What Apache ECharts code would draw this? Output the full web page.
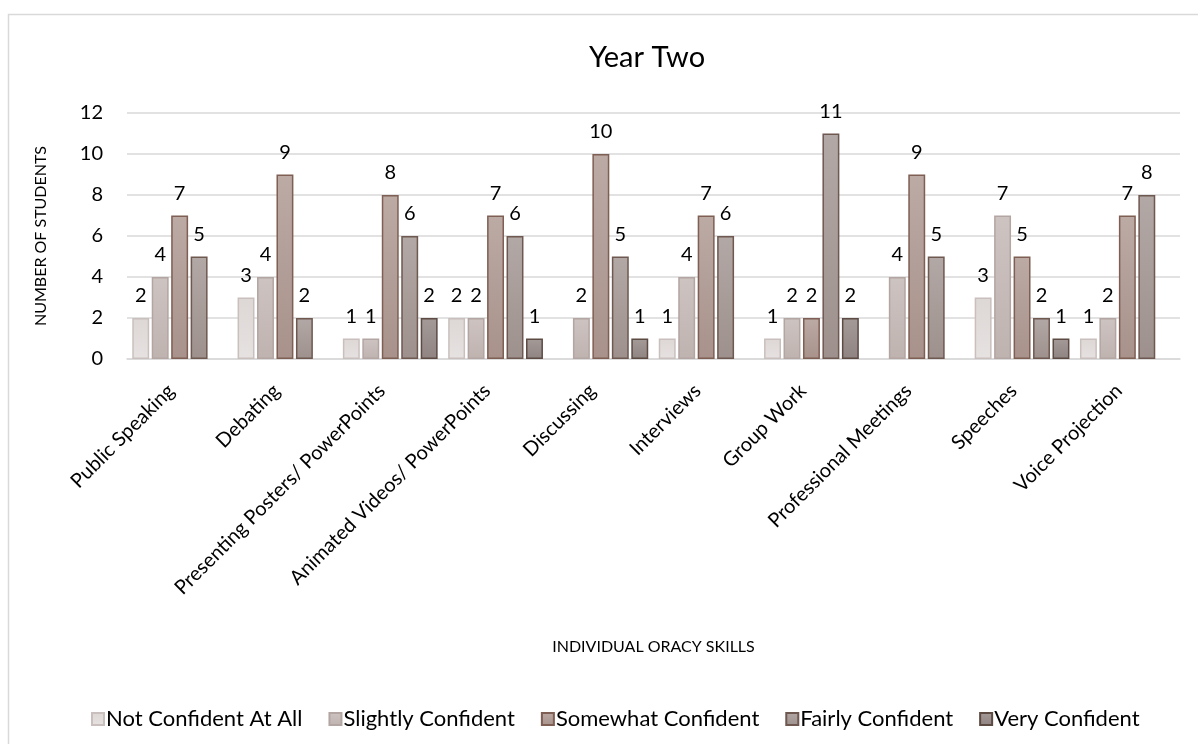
<!DOCTYPE html>
<html>
<head>
    <meta charset="utf-8">
    <title>Year Two</title>
    <script src="https://cdn.jsdelivr.net/npm/echarts@6/dist/echarts.min.js"></script>
</head>
<body style="margin:0">
<div id="main" style="width:1198px;height:744px;"></div>
<script type="text/javascript">
    // skills on the x axis
    var skills = ['Public Speaking', 'Debating', 'Presenting Posters/ PowerPoints',
        'Animated Videos/ PowerPoints', 'Discussing', 'Interviews', 'Group Work',
        'Professional Meetings', 'Speeches', 'Voice Projection'];

    var levels = ['Not Confident At All', 'Slightly Confident', 'Somewhat Confident',
        'Fairly Confident', 'Very Confident'];

    // null = empty cell, no bar drawn
    var notConfident = [2, 3, 1, 2, null, 1, 1, null, 3, 1];
    var slightly = [4, 4, 1, 2, 2, 4, 2, 4, 7, 2];
    var somewhat = [7, 9, 8, 7, 10, 7, 2, 9, 5, 7];
    var fairly = [5, 2, 6, 6, 5, 6, 11, 5, 2, 8];
    var very = [null, null, 2, 1, 1, null, 2, null, 1, null];

    var yTicks = [0, 2, 4, 6, 8, 10, 12];

    var fills = [
        ['#ddd7d5', '#e6e2e1', '#c9c0bd'],
        ['#cdc3c0', '#bfb3b0', '#b3a5a1'],
        ['#bcaaa5', '#a8928b', '#7f5e53'],
        ['#b2a8a5', '#9e918d', '#6e5850'],
        ['#a49a97', '#8f8481', '#5c4a43']
    ];

    var font = 'Lato, "Open Sans", sans-serif';

    function grad(c) {
        return new echarts.graphic.LinearGradient(0, 0, 0, 1, [
            {offset: 0, color: c[0]},
            {offset: 1, color: c[1]}
        ]);
    }

    var allSeries = [notConfident, slightly, somewhat, fairly, very];

    var myChart = echarts.init(document.getElementById('main'), null, {renderer: 'canvas'});

    var option = {
        backgroundColor: '#fff',
        animation: false,
        textStyle: {fontFamily: font},
        title: {
            text: 'Year Two',
            left: 642,
            top: 38,
            textAlign: 'center',
            textStyle: {fontFamily: font, fontSize: 29, fontWeight: 'normal', color: '#000'}
        },
        graphic: [{
            type: 'rect',
            shape: {x: 8.5, y: 14.5, width: 1200, height: 740},
            style: {fill: null, stroke: '#d9d9d9', lineWidth: 1.5},
            silent: true,
            z: -1
        }],
        legend: {
            data: levels,
            left: 86,
            top: 703,
            icon: 'rect',
            itemWidth: 12,
            itemHeight: 12,
            itemGap: 26,
            textStyle: {fontFamily: font, fontSize: 22, color: '#000', padding: [0, 0, 0, -3]}
        },
        grid: {
            left: 127,
            right: 18,
            top: 113,
            bottom: 385
        },
        xAxis: {
            type: 'category',
            data: skills,
            name: 'INDIVIDUAL ORACY SKILLS',
            nameLocation: 'middle',
            nameGap: 280,
            nameTextStyle: {fontFamily: font, fontSize: 16, color: '#000'},
            axisTick: {show: false},
            axisLine: {lineStyle: {color: '#d9d9d9', width: 1.5}},
            axisLabel: {
                rotate: 45,
                margin: 20,
                interval: 0,
                padding: [0, 12, 0, 0],
                fontFamily: font,
                fontSize: 20,
                color: '#000'
            }
        },
        yAxis: {
            type: 'value',
            min: yTicks[0],
            max: yTicks[yTicks.length - 1],
            interval: yTicks[1] - yTicks[0],
            name: 'NUMBER OF STUDENTS',
            nameLocation: 'middle',
            nameGap: 78,
            nameTextStyle: {fontFamily: font, fontSize: 16, color: '#000'},
            axisLine: {show: false},
            axisTick: {show: false},
            axisLabel: {margin: 24, fontFamily: font, fontSize: 20, color: '#000'},
            splitLine: {lineStyle: {color: '#d9d9d9', width: 1.5}}
        },
        series: allSeries.map(function (vals, i) {
            return {
                name: levels[i],
                type: 'bar',
                data: vals,
                barGap: '15%',
                barCategoryGap: '10%',
                itemStyle: {
                    color: grad(fills[i]),
                    borderColor: fills[i][2],
                    borderWidth: 1.5
                },
                label: {
                    show: true,
                    position: 'top',
                    distance: 12,
                    fontFamily: font,
                    fontSize: 20,
                    color: '#000'
                }
            };
        })
    };

    myChart.setOption(option);
</script>
</body>
</html>
